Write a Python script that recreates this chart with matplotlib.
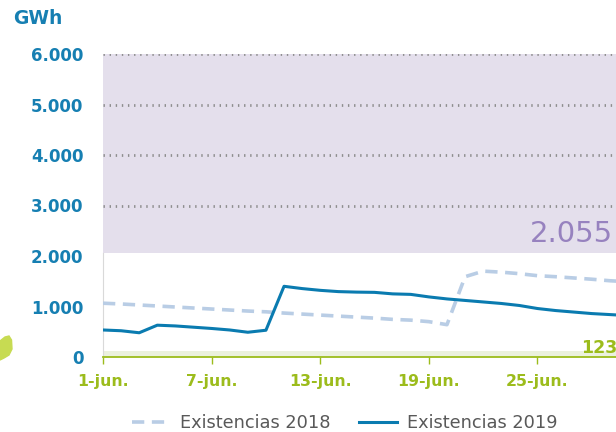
"""Existencias diarias (GWh), junio 2018 frente a junio 2019."""

import matplotlib

matplotlib.use("Agg")
import matplotlib.pyplot as plt
from matplotlib.patches import Polygon

days = list(range(1, 31))
stock_2018 = [1065, 1050, 1030, 1010, 990, 970, 950, 930, 910, 895,
              870, 850, 830, 810, 790, 770, 745, 730, 700, 640,
              1590, 1700, 1680, 1650, 1610, 1590, 1565, 1540, 1510, 1490]
stock_2019 = [535, 520, 480, 630, 615, 590, 565, 535, 490, 530,
              1400, 1355, 1320, 1295, 1285, 1280, 1250, 1240, 1190, 1150,
              1120, 1090, 1060, 1020, 960, 920, 890, 860, 840, 820]
tick_days = [1, 7, 13, 19, 25]
tick_labels = ["1-jun.", "7-jun.", "13-jun.", "19-jun.", "25-jun."]
y_ticks = [0, 1000, 2000, 3000, 4000, 5000, 6000]
y_labels = ["0", "1.000", "2.000", "3.000", "4.000", "5.000", "6.000"]
upper_limit = 2055   # top of the comfortable band
lower_limit = 123    # minimum stock
y_max = 6000

BLUE = "#167FB2"
GREEN = "#9CBC1C"
PURPLE = "#9782BF"

W, H = 616, 432
fig = plt.figure(figsize=(W / 100, H / 100), dpi=100)
# the axes run a little past the right edge, so the end of the month is clipped
ax = fig.add_axes([103 / W, 75 / H, 525 / W, 303 / H])

ax.axhspan(upper_limit, y_max, color="#E4DFEC", lw=0, zorder=0.2)
ax.axhspan(lower_limit, upper_limit, color="white", lw=0, zorder=0.8)
ax.axhspan(0, lower_limit, color="#EBF1DE", lw=0, zorder=0.8)

ax.plot(days, stock_2018, color="#B9CDE5", lw=2.6, ls=(0, (3.4, 2.1)),
        label="Existencias 2018", zorder=4)
ax.plot(days, stock_2019, color="#0A7BB0", lw=2.2,
        label="Existencias 2019", zorder=5)

ax.text(29.15, 2270, f"{upper_limit:,}".replace(",", "."), color=PURPLE,
        fontsize=21, ha="right", va="baseline", zorder=6)
ax.text(27.4, 80, f"{lower_limit}", color=GREEN, fontsize=12.5,
        fontweight="bold", ha="left", va="baseline", zorder=6)

ax.set_xlim(1, 30)
ax.set_ylim(0, y_max)
ax.set_yticks(y_ticks)
ax.set_yticklabels(y_labels)
ax.set_xticks(tick_days)
ax.set_xticklabels(tick_labels)

ax.set_axisbelow(True)
ax.grid(axis="y", color="#8E8E8E", lw=2.0, ls=(0, (0.5, 1.7)))
ax.grid(axis="x", visible=False)

for side in ("top", "right"):
    ax.spines[side].set_visible(False)
ax.spines["left"].set_color("#D9D9D9")
ax.spines["left"].set_bounds(0, upper_limit)
ax.spines["bottom"].set_color(GREEN)
ax.spines["bottom"].set_linewidth(1.3)
ax.spines["bottom"].set_zorder(6)

ax.tick_params(axis="y", length=0, pad=14, labelsize=12, labelcolor=BLUE)
ax.tick_params(axis="x", length=5, width=1, color=GREEN, pad=7,
               labelsize=11.3, labelcolor=GREEN)
for lbl in ax.get_yticklabels() + ax.get_xticklabels():
    lbl.set_fontweight("bold")

fig.text(13 / W, 1 - 24 / H, "GWh", color=BLUE, fontsize=13.5,
         fontweight="bold", ha="left", va="baseline")

# small decorative shape peeking in from the left edge
blob_px = [(0, 341), (5, 337), (9, 336), (11.5, 340), (12, 349),
           (9, 355), (4, 358), (0, 360)]
blob = Polygon([(x / W, 1 - y / H) for x, y in blob_px], closed=True,
               transform=fig.transFigure, color="#C7DB52")
fig.patches.append(blob)

fig.legend(loc="center", bbox_to_anchor=(345 / W, 1 - 423 / H),
           ncol=2, frameon=False, fontsize=12.8, labelcolor="#595959",
           handlelength=2.1, handletextpad=0.6, columnspacing=1.6)

fig.savefig("out.png", dpi=100)
